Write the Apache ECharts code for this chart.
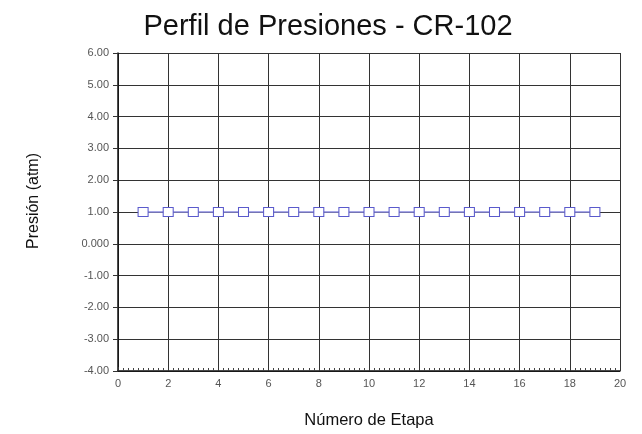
<!DOCTYPE html>
<html>
<head>
<meta charset="utf-8">
<script src="https://cdn.jsdelivr.net/npm/echarts@6/dist/echarts.min.js"></script>
<style>html,body{margin:0;padding:0;background:#fff}#c{width:642px;height:434px}</style>
</head>
<body>
<div id="c"></div>
<script>
// Pressure per stage for column CR-102
const etapas = [1,2,3,4,5,6,7,8,9,10,11,12,13,14,15,16,17,18,19];
const presiones = [1,1,1,1,1,1,1,1,1,1,1,1,1,1,1,1,1,1,1];
const xMin = 0, xMax = 20, xStep = 2;
const yMin = -4, yMax = 6, yStep = 1;

const chart = echarts.init(document.getElementById('c'), null, {renderer: 'canvas'});
const font = 'Liberation Sans, Arial, sans-serif';
chart.setOption({
  backgroundColor: '#fff',
  animation: false,
  title: {
    text: 'Perfil de Presiones - CR-102',
    left: 323, top: 7, textAlign: 'center',
    textStyle: {fontFamily: font, fontSize: 29, fontWeight: 'normal', color: '#111'}
  },
  grid: {left: 118, right: 22, top: 53, bottom: 62},
  xAxis: {
    type: 'value', min: xMin, max: xMax, interval: xStep,
    name: 'Número de Etapa', nameLocation: 'middle', nameGap: 41,
    nameTextStyle: {fontFamily: font, fontSize: 16.5, color: '#111'},
    axisLine: {show: true, onZero: false, lineStyle: {color: '#111', width: 1.5}},
    axisTick: {show: true, length: 4, inside: true, lineStyle: {color: '#333'}},
    minorTick: {show: true, splitNumber: 10, length: 3, lineStyle: {color: '#444'}},
    axisLabel: {fontFamily: font, fontSize: 11, color: '#555', margin: 7},
    splitLine: {show: true, lineStyle: {color: '#333', width: 1}}
  },
  yAxis: {
    type: 'value', min: yMin, max: yMax, interval: yStep,
    name: 'Presión (atm)', nameLocation: 'middle', nameGap: 76, nameRotate: 90,
    nameTextStyle: {fontFamily: font, fontSize: 16, color: '#111', padding: [0, 0, 0, 22]},
    axisLine: {show: true, onZero: false, lineStyle: {color: '#111', width: 1.5}},
    axisTick: {show: true, length: 5, lineStyle: {color: '#333'}},
    axisLabel: {
      fontFamily: font, fontSize: 11, color: '#555', margin: 9,
      formatter: v => v === 0 ? '0.000' : v.toFixed(2)
    },
    splitLine: {show: true, lineStyle: {color: '#333', width: 1}}
  },
  series: [{
    type: 'line',
    data: etapas.map((e, i) => [e, presiones[i]]),
    symbol: 'rect', symbolSize: [10, 9],
    itemStyle: {color: '#fff', borderColor: '#5a5acc', borderWidth: 1},
    lineStyle: {color: '#8a8ae0', width: 1.5}
  }]
});
</script>
</body>
</html>
